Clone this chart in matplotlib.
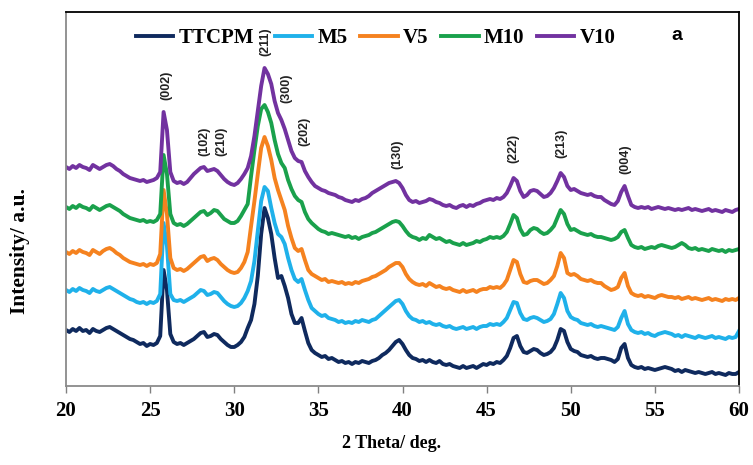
import numpy as np
import matplotlib
matplotlib.use('Agg')
import matplotlib.pyplot as plt

# diffraction angle grid, 0.2 deg steps from 20 to 60
two_theta = np.round(np.arange(20.0, 60.01, 0.2), 1)

ttcpm = [56, 54, 57, 55, 58, 55, 56, 53, 57, 55, 54, 56, 58, 59, 57, 55, 53, 51, 49, 47,
         46, 44, 42, 43, 40, 42, 41, 43, 50, 116, 96, 52, 44, 42, 43, 41, 43, 45, 47, 50,
         53, 54, 49, 50, 52, 51, 47, 44, 41, 39, 39, 41, 44, 49, 58, 66, 82, 110, 152, 178,
         168, 152, 128, 108, 110, 100, 88, 72, 63, 63, 68, 55, 43, 36, 33, 31, 29, 30, 27, 28,
         26, 24, 25, 23, 24, 22, 24, 23, 25, 24, 23, 25, 26, 28, 31, 33, 36, 40, 44, 46,
         42, 36, 31, 28, 27, 25, 26, 24, 26, 24, 23, 25, 22, 21, 22, 20, 19, 18, 20, 18,
         19, 20, 18, 20, 22, 21, 23, 22, 24, 23, 26, 30, 38, 48, 50, 40, 34, 33, 35, 37,
         36, 33, 31, 32, 34, 38, 46, 57, 55, 44, 37, 35, 34, 31, 30, 29, 30, 28, 27, 28,
         28, 27, 26, 24, 27, 38, 42, 28, 21, 19, 18, 19, 17, 18, 17, 16, 17, 18, 19, 18,
         17, 15, 16, 14, 16, 15, 14, 13, 14, 13, 12, 13, 14, 12, 13, 12, 11, 13, 12, 12, 14]

m5 = [96, 94, 97, 95, 98, 96, 95, 93, 97, 95, 94, 96, 98, 99, 97, 95, 93, 91, 89, 87,
      86, 84, 83, 84, 82, 84, 83, 85, 92, 163, 140, 92, 86, 85, 86, 84, 86, 88, 90, 93,
      96, 95, 91, 92, 94, 93, 89, 85, 82, 80, 79, 80, 83, 88, 95, 105, 125, 155, 185, 199,
      195, 178, 163, 152, 149, 142, 128, 116, 107, 104, 107, 96, 86, 78, 75, 72, 70, 71, 68, 67,
      66, 64, 65, 63, 64, 63, 65, 64, 66, 65, 64, 66, 67, 70, 73, 76, 79, 82, 85, 86,
      82, 75, 70, 67, 66, 64, 65, 63, 64, 62, 61, 62, 60, 59, 60, 58, 57, 58, 59, 57,
      58, 59, 57, 59, 60, 60, 62, 61, 62, 61, 64, 68, 76, 84, 83, 73, 67, 66, 68, 69,
      68, 66, 64, 65, 67, 72, 82, 93, 88, 75, 69, 67, 66, 63, 62, 61, 62, 60, 59, 60,
      59, 58, 57, 56, 59, 68, 75, 62, 56, 54, 53, 54, 52, 53, 51, 50, 52, 53, 54, 53,
      52, 50, 51, 49, 51, 50, 49, 48, 50, 49, 48, 49, 50, 48, 49, 48, 47, 49, 48, 49, 55]

v5 = [134, 132, 135, 133, 136, 134, 133, 131, 136, 134, 132, 135, 137, 138, 136, 133, 131, 128, 126, 124,
      123, 122, 121, 122, 120, 122, 121, 123, 132, 196, 172, 128, 118, 116, 117, 115, 117, 120, 123, 126,
      129, 130, 125, 127, 128, 126, 122, 119, 116, 114, 113, 114, 118, 124, 134, 160, 185, 212, 238, 249,
      240, 226, 208, 196, 186, 176, 160, 148, 138, 135, 137, 126, 116, 112, 110, 108, 106, 107, 104, 105,
      104, 103, 104, 102, 103, 102, 104, 103, 105, 106, 107, 109, 110, 112, 114, 116, 119, 121, 123, 123,
      119, 112, 107, 104, 102, 101, 102, 100, 103, 101, 99, 100, 98, 97, 98, 96, 95, 94, 96, 94,
      95, 96, 94, 96, 97, 97, 99, 98, 99, 98, 101, 106, 116, 126, 124, 112, 104, 103, 105, 106,
      106, 104, 102, 103, 106, 110, 120, 133, 128, 113, 111, 112, 110, 107, 106, 105, 106, 104, 103, 103,
      100, 98, 96, 97, 99, 108, 113, 100, 93, 91, 90, 91, 89, 90, 89, 88, 90, 91, 90, 89,
      89, 88, 89, 87, 88, 89, 87, 88, 87, 86, 87, 88, 86, 87, 86, 85, 87, 86, 87, 86, 88]

m10 = [179, 177, 180, 178, 181, 179, 178, 176, 180, 178, 176, 178, 180, 181, 179, 177, 175, 172, 170, 168,
       167, 166, 165, 166, 164, 165, 164, 166, 172, 231, 212, 172, 163, 161, 162, 160, 162, 165, 168, 171,
       174, 175, 171, 173, 176, 175, 171, 167, 165, 163, 163, 165, 170, 176, 182, 210, 236, 260, 277, 281,
       274, 263, 246, 232, 223, 218, 206, 197, 190, 186, 184, 174, 167, 163, 160, 157, 155, 154, 152, 153,
       152, 151, 150, 149, 150, 148, 149, 147, 149, 150, 151, 153, 154, 156, 158, 160, 162, 164, 165, 164,
       160, 155, 151, 149, 148, 146, 148, 147, 151, 149, 147, 148, 146, 144, 145, 143, 142, 141, 143, 141,
       142, 143, 145, 144, 146, 147, 149, 148, 149, 148, 150, 154, 162, 171, 168, 157, 151, 152, 156, 158,
       157, 154, 152, 153, 156, 160, 168, 176, 172, 162, 156, 157, 155, 153, 152, 151, 152, 150, 149, 149,
       148, 147, 146, 147, 149, 154, 156, 148, 141, 139, 138, 139, 137, 138, 139, 138, 140, 141, 140, 139,
       138, 139, 141, 143, 141, 138, 137, 138, 136, 137, 136, 135, 137, 136, 135, 136, 134, 136, 135, 136, 137]

v10 = [219, 217, 220, 218, 221, 219, 218, 216, 221, 219, 217, 219, 221, 222, 220, 217, 215, 212, 210, 208,
       207, 206, 205, 206, 204, 205, 206, 208, 214, 274, 256, 214, 205, 203, 204, 202, 204, 208, 212, 215,
       218, 219, 215, 216, 217, 215, 211, 207, 204, 202, 201, 203, 207, 212, 218, 230, 250, 275, 300, 318,
       312, 302, 285, 273, 266, 257, 246, 235, 228, 225, 224, 215, 209, 204, 200, 198, 196, 195, 193, 192,
       191, 189, 188, 186, 185, 184, 186, 185, 187, 188, 190, 193, 195, 197, 199, 201, 203, 204, 205, 203,
       198, 191, 186, 184, 185, 183, 184, 185, 187, 186, 184, 183, 181, 180, 181, 179, 178, 180, 181, 179,
       181, 180, 182, 183, 185, 186, 187, 186, 188, 187, 189, 193, 200, 208, 205, 195, 189, 191, 195, 196,
       195, 192, 189, 190, 193, 198, 205, 213, 209, 200, 196, 197, 195, 193, 192, 191, 192, 190, 189, 189,
       186, 184, 182, 181, 185, 194, 200, 190, 181, 179, 178, 179, 178, 179, 177, 178, 179, 178, 177, 178,
       177, 176, 177, 176, 177, 178, 176, 177, 176, 175, 176, 177, 175, 176, 175, 174, 176, 175, 174, 176, 177]

names = ['TTCPM', 'M5', 'V5', 'M10', 'V10']
colors = ['#0f2a5e', '#1fb1ea', '#f5821f', '#1aa14c', '#7232a0']

# Miller indices and where their labels sit (2theta, height)
hkl = ['(002)', '(102)', '(210)', '(211)', '(300)', '(202)', '(130)', '(222)', '(213)', '(004)']
hkl_x = [25.95, 28.25, 29.25, 31.85, 33.1, 34.15, 39.7, 46.6, 49.45, 53.25]
hkl_y = [301, 245, 245, 344, 298, 255, 232, 238, 243, 227]

serif = 'Liberation Serif'
sans = 'Liberation Sans'

fig = plt.figure(figsize=(7.53, 4.65), dpi=100)
ax = fig.add_axes([66 / 753, 79 / 465, 673 / 753, 374 / 465])

lines = []
for ys, name, c in zip([ttcpm, m5, v5, m10, v10], names, colors):
    ln, = ax.plot(two_theta, ys, color=c, lw=2.8, label=name, solid_joinstyle='round')
    lines.append(ln)

for lab, x, y in zip(hkl, hkl_x, hkl_y):
    ax.text(x, y, lab, rotation=90, ha='center', va='center',
            fontsize=9, fontweight='bold', family=sans, color='#222222')

ax.set_xlim(20, 60)
ax.set_ylim(0, 374)
ax.set_xticks(np.arange(20, 61, 5))
ax.set_yticks([])
ax.tick_params(axis='x', direction='out', length=5, width=1, color='#808080', pad=6)
for t in ax.get_xticklabels():
    t.set_fontfamily(serif)
    t.set_fontweight('bold')
    t.set_fontsize(15)

for side in ['left', 'bottom']:
    ax.spines[side].set_color('#8a8a8a')
    ax.spines[side].set_linewidth(1.3)
for side in ['top', 'right']:
    ax.spines[side].set_color('black')
    ax.spines[side].set_linewidth(1.3)

# legend split in two so the (211) label fits between TTCPM and M5
leg_kw = dict(loc='center left', frameon=False, borderpad=0, borderaxespad=0,
              handlelength=1.8, handletextpad=0.25, columnspacing=0.6,
              prop=dict(family=serif, weight='bold', size=15))
leg1 = ax.legend(lines[:1], names[:1], bbox_to_anchor=(0.104, 0.93), ncol=1, **leg_kw)
ax.add_artist(leg1)
ax.legend(lines[1:], names[1:], bbox_to_anchor=(0.3105, 0.93), ncol=4, **leg_kw)

ax.text(0.908, 0.938, 'a', transform=ax.transAxes, ha='center', va='center',
        fontsize=14, fontweight='bold', family=sans)

fig.text(392 / 753, 1 - 443 / 465, '2 Theta/ deg.', ha='center', va='center',
         fontsize=13, fontweight='bold', family=serif)
fig.text(20 / 753, 1 - 251 / 465, 'Intensity/ a.u.', ha='center', va='center', rotation=90,
         fontsize=15.5, fontweight='bold', family=serif)

fig.savefig('out.png', dpi=100)
